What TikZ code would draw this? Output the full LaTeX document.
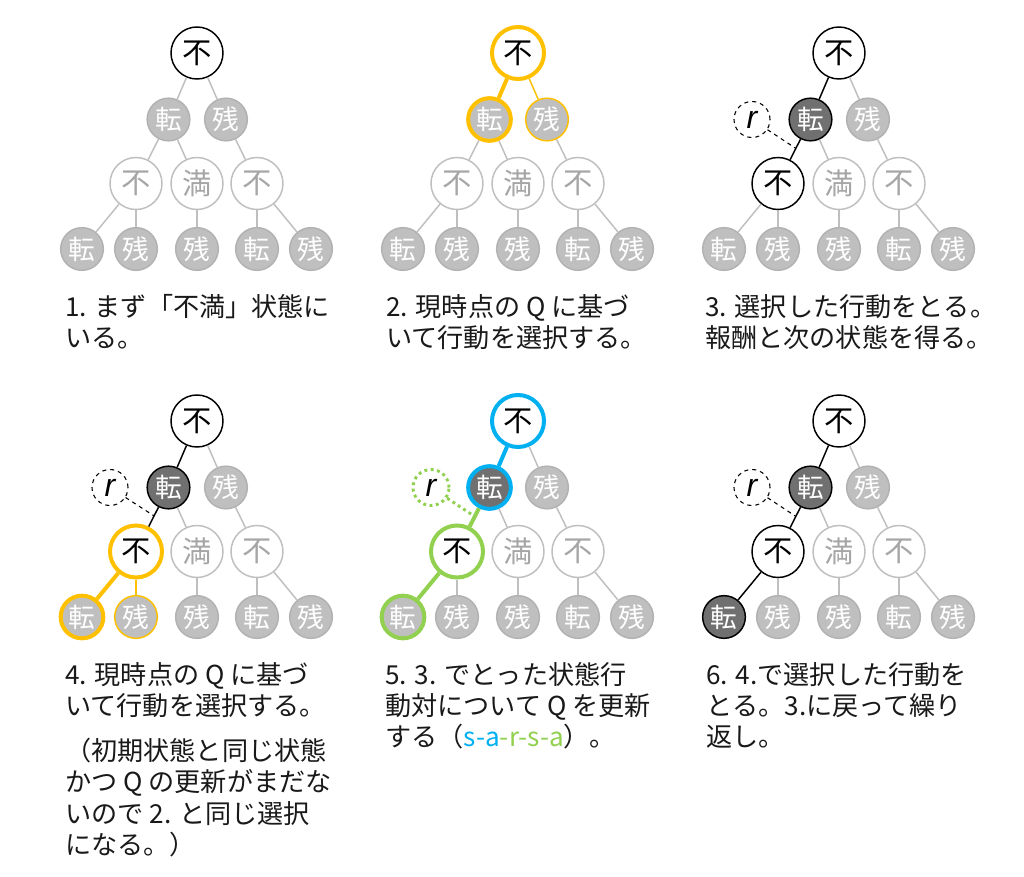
\documentclass[tikz,border=0pt]{standalone}
\usepackage{fontspec}
\setmainfont{Noto Sans CJK JP}
\newfontfamily\rewardfont{Liberation Sans}
\usepackage{tikz}
\usetikzlibrary{calc}

\definecolor{lgray}{HTML}{BFBFBF}
\definecolor{agray}{HTML}{BFBFBF}
\definecolor{abord}{HTML}{B2B2B2}
\definecolor{mgray}{HTML}{A6A6A6}
\definecolor{dgray}{HTML}{707070}
\definecolor{qyel}{HTML}{FFC000}
\definecolor{qblue}{HTML}{00B0F0}
\definecolor{qgreen}{HTML}{92D050}

\tikzset{
  stnode/.style={circle, draw=lgray, fill=white, text=mgray, line width=1.1pt,
    minimum size=39pt, inner sep=0pt, font=\fontsize{22}{22}\selectfont},
  acnode/.style={circle, draw=abord, fill=agray, text=white, line width=1.1pt,
    minimum size=32pt, inner sep=0pt, font=\fontsize{20}{20}\selectfont},
  link/.style={draw=lgray, line width=1.1pt},
  rnode/.style={circle, draw=black, dashed, line width=0.8pt, minimum size=27pt,
    inner sep=0pt, font=\rewardfont\itshape\fontsize{24}{24}\selectfont},
  rlink/.style={draw=black, dashed, line width=0.8pt},
  caption/.style={anchor=north west, align=left, inner sep=0pt, text=black!90,
    font=\fontsize{19.6}{23.4}\selectfont},
  visited/.style={draw=black, text=black},
  taken/.style={draw=black, fill=dgray, text=white},
  blackline/.style={draw=black},
  yelthick/.style={draw=qyel, line width=3pt},
  yelthin/.style={draw=qyel},
  bluethick/.style={draw=qblue, line width=3pt},
  grnthick/.style={draw=qgreen, line width=3pt},
  grndots/.style={draw=qgreen, line width=2.2pt, dash pattern=on 2.2pt off 2.6pt},
  % per-node and per-edge hooks, set in each panel
  ns0/.style={}, na1/.style={}, na2/.style={}, ns1/.style={}, ns2/.style={},
  ns3/.style={}, nb1/.style={}, nb2/.style={}, nb3/.style={}, nb4/.style={},
  nb5/.style={},
  ea1/.style={}, ea2/.style={}, es1/.style={}, es2/.style={}, es3/.style={},
  eb1/.style={}, eb2/.style={}, eb3/.style={}, eb4/.style={}, eb5/.style={}
}

\newcommand{\qtree}[1]{
\node[stnode, ns0] (#1s0) at (197,53) {不};
\node[acnode, na1] (#1a1) at (168.5,119.5) {転};
\node[acnode, na2] (#1a2) at (226,119.5) {残};
\node[stnode, ns1] (#1s1) at (136,183.5) {不};
\node[stnode, ns2] (#1s2) at (197,183.5) {満};
\node[stnode, ns3] (#1s3) at (257,183.5) {不};
\node[acnode, nb1] (#1b1) at (82,249) {転};
\node[acnode, nb2] (#1b2) at (136,249) {残};
\node[acnode, nb3] (#1b3) at (197,249) {残};
\node[acnode, nb4] (#1b4) at (257,249) {転};
\node[acnode, nb5] (#1b5) at (311,249) {残};
\draw[link, ea1] (#1s0) -- (#1a1);
\draw[link, ea2] (#1s0) -- (#1a2);
\draw[link, es1] (#1a1) -- coordinate[pos=.45] (#1m) (#1s1);
\draw[link, es2] (#1a1) -- (#1s2);
\draw[link, es3] (#1a2) -- (#1s3);
\draw[link, eb1] (#1s1) -- (#1b1);
\draw[link, eb2] (#1s1) -- (#1b2);
\draw[link, eb3] (#1s2) -- (#1b3);
\draw[link, eb4] (#1s3) -- (#1b4);
\draw[link, eb5] (#1s3) -- (#1b5);
}

\begin{document}
\begin{tikzpicture}[x=0.75pt, y=-0.75pt]
\path[use as bounding box, fill=white] (0,0) rectangle (1024,877);

% 1. start
\begin{scope}[ns0/.style={visited}]
\qtree{p1}
\node[caption] (t1) at (65,294) {1. まず「不満」状態に\\いる。};
\end{scope}

% 2. choose by Q
\begin{scope}[shift={(321,0)},
  ns0/.style={yelthick, text=black}, na1/.style={yelthick}, na2/.style={yelthin},
  ea1/.style={yelthick}, ea2/.style={yelthin}]
\qtree{p2}
\node[caption] (t2) at (65,294) {2. 現時点の Q に基づ\\いて行動を選択する。};
\end{scope}

% 3. take action
\begin{scope}[shift={(642,0)},
  ns0/.style={visited}, na1/.style={taken}, ns1/.style={visited},
  ea1/.style={blackline}, es1/.style={blackline}]
\qtree{p3}
\node[rnode] (p3r) at (110,119.5) {r};
\draw[rlink] (p3r) -- (p3m);
\node[caption] (t3) at (63,294) {3. 選択した行動をとる。\\報酬と次の状態を得る。};
\end{scope}

% 4. choose again
\begin{scope}[shift={(0,368)},
  ns0/.style={visited}, na1/.style={taken}, ns1/.style={yelthick, text=black},
  nb1/.style={yelthick}, nb2/.style={yelthin},
  ea1/.style={blackline}, es1/.style={blackline},
  eb1/.style={yelthick}, eb2/.style={yelthin}]
\qtree{p4}
\node[rnode] (p4r) at (110,119.5) {r};
\draw[rlink] (p4r) -- (p4m);
\node[caption] (t4) at (65,294) {4. 現時点の Q に基づ\\いて行動を選択する。\\[10.5pt]（初期状態と同じ状態\\かつ Q の更新がまだな\\いので 2. と同じ選択\\になる。）};
\end{scope}

% 5. update Q
\begin{scope}[shift={(321,368)},
  ns0/.style={bluethick, text=black}, na1/.style={taken, bluethick},
  ns1/.style={grnthick, text=black}, nb1/.style={grnthick},
  ea1/.style={bluethick}, es1/.style={grnthick}, eb1/.style={grnthick}]
\qtree{p5}
\node[rnode, grndots] (p5r) at (110,119.5) {r};
\draw[grndots] (p5r) -- (p5m);
\node[caption] (t5) at (64,294) {5. 3. でとった状態行\\動対について Q を更新\\する（\textcolor{qblue}{s-a}\textcolor{qgreen}{-r-s-a}）。};
\end{scope}

% 6. repeat
\begin{scope}[shift={(642,368)},
  ns0/.style={visited}, na1/.style={taken}, ns1/.style={visited},
  nb1/.style={taken},
  ea1/.style={blackline}, es1/.style={blackline}, eb1/.style={blackline}]
\qtree{p6}
\node[rnode] (p6r) at (110,119.5) {r};
\draw[rlink] (p6r) -- (p6m);
\node[caption] (t6) at (64,294) {6. 4.で選択した行動を\\とる。3.に戻って繰り\\返し。};
\end{scope}
\end{tikzpicture}
\end{document}
